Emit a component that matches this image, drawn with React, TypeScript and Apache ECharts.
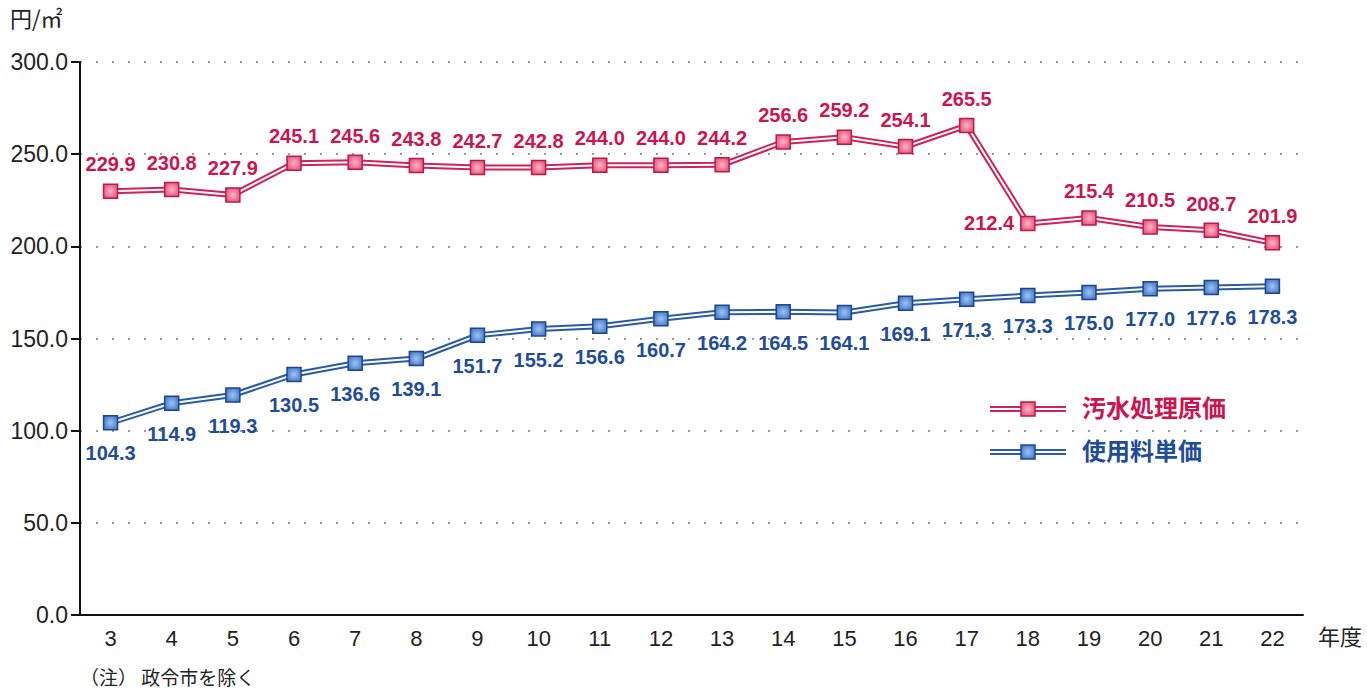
import React, { useEffect, useRef } from "react";
import * as echarts from "echarts";

const categories = ["3", "4", "5", "6", "7", "8", "9", "10", "11", "12", "13", "14", "15", "16", "17", "18", "19", "20", "21", "22"];
const sewageCost = [229.9, 230.8, 227.9, 245.1, 245.6, 243.8, 242.7, 242.8, 244.0, 244.0, 244.2, 256.6, 259.2, 254.1, 265.5, 212.4, 215.4, 210.5, 208.7, 201.9];
const usageFee = [104.3, 114.9, 119.3, 130.5, 136.6, 139.1, 151.7, 155.2, 156.6, 160.7, 164.2, 164.5, 164.1, 169.1, 171.3, 173.3, 175.0, 177.0, 177.6, 178.3];
const seriesNames = ["汚水処理原価", "使用料単価"];

const RED = "#d0225a";
const RED_TEXT = "#cc1450";
const BLUE = "#2a5ba6";
const BLUE_TEXT = "#1f4d98";

const redFill = new echarts.graphic.RadialGradient(0.5, 0.5, 0.7, [
  { offset: 0, color: "#fbb4c6" },
  { offset: 1, color: "#e0426e" },
]);
const blueFill = new echarts.graphic.RadialGradient(0.5, 0.5, 0.7, [
  { offset: 0, color: "#9cc4f4" },
  { offset: 1, color: "#3569bd" },
]);

const labelFont = {
  fontFamily: "'Liberation Sans Narrow', 'Arial Narrow', Arial, sans-serif",
  fontWeight: "bold" as const,
  fontSize: 20,
};
const axisFont = "Arial, 'Liberation Sans', sans-serif";
const cjkFont = "'Noto Sans CJK JP', sans-serif";

export default function App() {
  const ref = useRef<HTMLDivElement>(null);
  useEffect(() => {
    if (!ref.current) return;
    const chart = echarts.init(ref.current, null, { renderer: "svg" });
    const redData = sewageCost.map((v, i) =>
      i === 15 ? { value: v, label: { position: "left", distance: 6 } } : v
    );
    chart.setOption({
      animation: false,
      backgroundColor: "#ffffff",
      grid: { left: 80, right: 64, top: 62, bottom: 79 },
      xAxis: {
        type: "category",
        data: categories,
        boundaryGap: true,
        axisLine: { lineStyle: { color: "#111", width: 2 } },
        axisTick: { inside: true, length: 9, lineStyle: { color: "#111", width: 2 } },
        axisLabel: { color: "#222", fontSize: 22, fontFamily: axisFont, margin: 12 },
      },
      yAxis: {
        type: "value",
        min: 0,
        max: 300,
        interval: 50,
        axisLine: { show: true, lineStyle: { color: "#111", width: 2 } },
        axisTick: { show: true, length: 9, lineStyle: { color: "#111", width: 2 } },
        axisLabel: {
          color: "#222",
          fontSize: 23,
          fontFamily: axisFont,
          margin: 12,
          formatter: (v: number) => v.toFixed(1),
        },
        splitLine: { show: true, lineStyle: { color: "#9a9a9a", width: 2, type: [2, 14] } },
      },
      series: [
        {
          name: seriesNames[0] + "_outer",
          type: "line",
          data: sewageCost,
          symbol: "none",
          silent: true,
          lineStyle: { color: RED, width: 6 },
          z: 2,
        },
        {
          name: seriesNames[0],
          type: "line",
          data: redData,
          symbol: "rect",
          symbolSize: 14,
          showAllSymbol: true,
          lineStyle: { color: "#fff", width: 2 },
          itemStyle: { color: redFill, borderColor: "#c0184a", borderWidth: 1.5 },
          label: {
            show: true,
            position: "top",
            distance: 9,
            color: RED_TEXT,
            ...labelFont,
            formatter: (p: any) => Number(p.value).toFixed(1),
          },
          z: 3,
        },
        {
          name: seriesNames[1] + "_outer",
          type: "line",
          data: usageFee,
          symbol: "none",
          silent: true,
          lineStyle: { color: BLUE, width: 6 },
          z: 2,
        },
        {
          name: seriesNames[1],
          type: "line",
          data: usageFee,
          symbol: "rect",
          symbolSize: 14,
          showAllSymbol: true,
          lineStyle: { color: "#fff", width: 2 },
          itemStyle: { color: blueFill, borderColor: "#1c4790", borderWidth: 1.5 },
          label: {
            show: true,
            position: "bottom",
            distance: 13,
            color: BLUE_TEXT,
            ...labelFont,
            formatter: (p: any) => Number(p.value).toFixed(1),
          },
          z: 3,
        },
      ],
      graphic: [
        {
          type: "text",
          left: 10,
          top: 6,
          style: { text: "円/㎡", fontSize: 22, fill: "#222", fontFamily: cjkFont },
        },
        {
          type: "text",
          left: 1318,
          top: 624,
          style: { text: "年度", fontSize: 22, fill: "#222", fontFamily: cjkFont },
        },
        {
          type: "text",
          left: 80,
          top: 667,
          style: { text: "（注） 政令市を除く", fontSize: 19, fill: "#222", fontFamily: cjkFont },
        },
        // legend: red
        { type: "line", shape: { x1: 990, y1: 409, x2: 1066, y2: 409 }, style: { stroke: RED, lineWidth: 6 }, z: 10 },
        { type: "line", shape: { x1: 990, y1: 409, x2: 1066, y2: 409 }, style: { stroke: "#fff", lineWidth: 2 }, z: 11 },
        { type: "rect", shape: { x: 1021, y: 402, width: 14, height: 14 }, style: { fill: redFill, stroke: "#c0184a", lineWidth: 1.5 }, z: 12 },
        {
          type: "text",
          left: 1082,
          top: 394,
          style: { text: seriesNames[0], fontSize: 24, fontWeight: "bold", fill: RED_TEXT, fontFamily: cjkFont },
          z: 12,
        },
        // legend: blue
        { type: "line", shape: { x1: 990, y1: 452, x2: 1066, y2: 452 }, style: { stroke: BLUE, lineWidth: 6 }, z: 10 },
        { type: "line", shape: { x1: 990, y1: 452, x2: 1066, y2: 452 }, style: { stroke: "#fff", lineWidth: 2 }, z: 11 },
        { type: "rect", shape: { x: 1021, y: 445, width: 14, height: 14 }, style: { fill: blueFill, stroke: "#1c4790", lineWidth: 1.5 }, z: 12 },
        {
          type: "text",
          left: 1082,
          top: 437,
          style: { text: seriesNames[1], fontSize: 24, fontWeight: "bold", fill: BLUE_TEXT, fontFamily: cjkFont },
          z: 12,
        },
      ],
    });
    return () => chart.dispose();
  }, []);
  return <div ref={ref} style={{ width: 1367, height: 694, position: "absolute", left: 0, top: 0 }} />;
}
